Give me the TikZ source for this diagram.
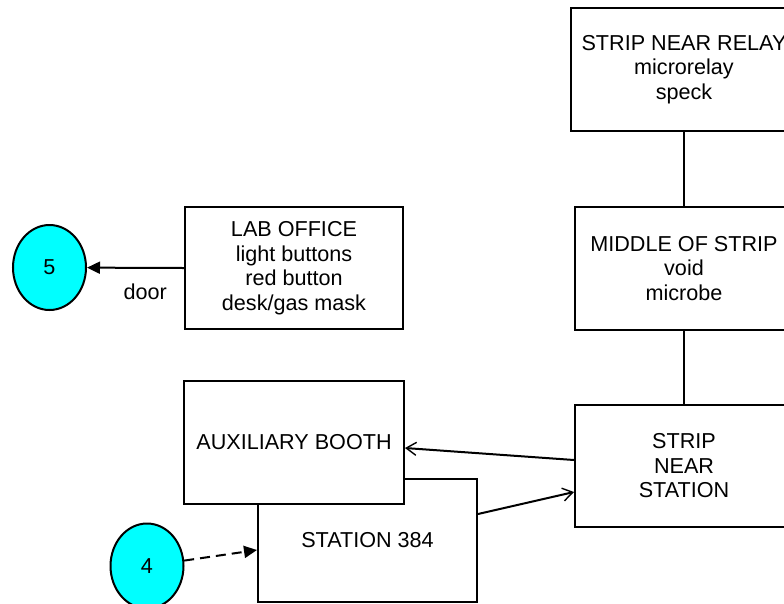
\documentclass[tikz,border=0pt]{standalone}
\usepackage{fontspec}
\setmainfont{Liberation Sans}
\usetikzlibrary{shapes.geometric,arrows.meta}
\definecolor{aqua}{RGB}{0,255,255}
\begin{document}
\begin{tikzpicture}[x=1pt,y=-1pt,
  box/.style={draw,line width=2pt,fill=white,rectangle,inner sep=0pt,align=center,
    font=\fontsize{21.6}{24.5}\selectfont},
  blob/.style={draw,line width=2pt,fill=aqua,ellipse,inner sep=0pt,minimum width=73pt,minimum height=85pt,
    font=\fontsize{21.6}{24.5}\selectfont},
  conn/.style={line width=2pt},
  open/.style={conn,-{Straight Barb[length=10pt,width=13pt,line width=1.4pt]}},
  solid tip/.style={conn,-{Triangle[length=13pt,width=12pt]}}]
\useasboundingbox (0,0) rectangle (784,603);
\clip (0,0) rectangle (784,603);
\node[box,minimum width=226pt,minimum height=123pt] (relay) at (684,69.5) {STRIP NEAR RELAY\\microrelay\\speck};
\node[box,minimum width=218pt,minimum height=123pt] (middle) at (684,268.5) {MIDDLE OF STRIP\\void\\microbe};
\node[box,minimum width=218pt,minimum height=122pt] (sns) at (684,466) {STRIP\\NEAR\\STATION};
\node[box,minimum width=218pt,minimum height=122pt] (lab) at (294,268) {LAB OFFICE\\light buttons\\red button\\desk/gas mask};
\node[box,minimum width=219pt,minimum height=123pt] (st) at (367.5,540.5) {STATION 384};
\node[box,minimum width=220pt,minimum height=123pt] (aux) at (294,442.5) {AUXILIARY BOOTH};
\node[blob] (c5) at (49.5,267.5) {5};
\node[blob] (c4) at (147,566) {4};
\draw[conn] (relay) -- (middle);
\draw[conn] (middle) -- (sns);
\draw[solid tip] (lab.west) -- (c5) node[pos=0.4,below=15pt,inner sep=0pt,font=\fontsize{21.6}{24.5}\selectfont] (door) {door};
\draw[open] ([yshift=6pt]sns.west) -- ([yshift=-5.5pt]aux.east);
\draw[open] ([yshift=26.5pt]st.east) -- ([yshift=-26pt]sns.west);
\draw[solid tip,dash pattern=on 10pt off 6pt] (c4) -- ([yshift=-9.5pt]st.west);
\end{tikzpicture}
\end{document}
